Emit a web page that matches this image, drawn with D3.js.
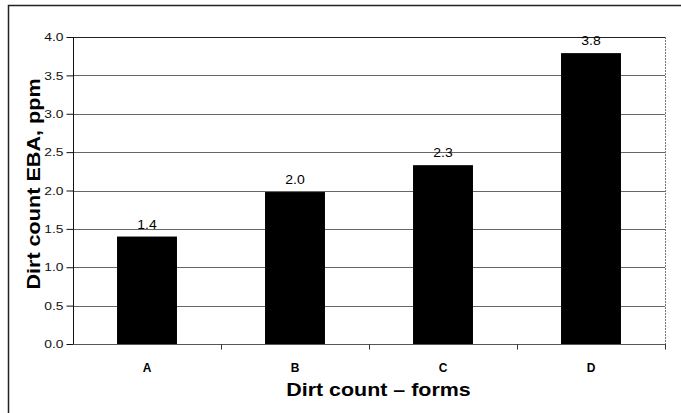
<!DOCTYPE html>
<meta charset='utf-8'>
<html>
<head>
    <title>Dirt count</title>
    <script src='https://d3js.org/d3.v7.min.js'></script>
    <style>
        html, body { margin: 0; padding: 0; background: white; }
        svg { display: block; }
    </style>
</head>
<body>
<script>
    // data
    const categories = ['A', 'B', 'C', 'D'];
    const values = [1.4, 1.98, 2.33, 3.79];
    const valueLabels = ['1.4', '2.0', '2.3', '3.8'];
    const yTicks = [0, 0.5, 1, 1.5, 2, 2.5, 3, 3.5, 4];

    const width = 681;
    const height = 413;
    const plot = { left: 73, right: 665, top: 37, bottom: 344 };
    const font = 'Liberation Sans, Arial, sans-serif';

    // the scanned chart has a slightly wide font, so stretch texts a bit
    function widen(sel, factor) {
        sel.each(function () {
            const len = this.getComputedTextLength();
            d3.select(this)
                .attr('textLength', len * factor)
                .attr('lengthAdjust', 'spacingAndGlyphs');
        });
    }

    const svg = d3.select('body').append('svg')
        .attr('width', width)
        .attr('height', height);

    // outer frame (runs off the right / bottom edge)
    svg.append('rect')
        .attr('x', 8.5).attr('y', 5.5)
        .attr('width', 700).attr('height', 430)
        .attr('fill', 'white')
        .attr('stroke', '#222')
        .attr('stroke-width', 1.5);

    const x = d3.scaleBand()
        .domain(categories)
        .range([plot.left, plot.right])
        .paddingInner(0.595)
        .paddingOuter(0.2975);

    const y = d3.scaleLinear()
        .domain([0, 4])
        .range([plot.bottom, plot.top]);

    // gridlines
    svg.append('g')
        .selectAll('line')
        .data(yTicks.filter(d => d > 0))
        .enter().append('line')
        .attr('x1', plot.left).attr('x2', plot.right)
        .attr('y1', d => Math.round(y(d)) + 0.5)
        .attr('y2', d => Math.round(y(d)) + 0.5)
        .attr('stroke', d => d === 4 ? '#222' : '#666')
        .attr('stroke-width', 1);

    // right border of plot area
    svg.append('line')
        .attr('x1', plot.right + 0.5).attr('x2', plot.right + 0.5)
        .attr('y1', plot.top).attr('y2', plot.bottom)
        .attr('stroke', '#777')
        .attr('stroke-dasharray', '2,1');

    // bars
    svg.append('g')
        .selectAll('rect')
        .data(values)
        .enter().append('rect')
        .attr('x', (d, i) => x(categories[i]))
        .attr('y', d => y(d))
        .attr('width', x.bandwidth())
        .attr('height', d => plot.bottom - y(d))
        .attr('fill', 'black');

    // value labels
    svg.append('g')
        .selectAll('text')
        .data(values)
        .enter().append('text')
        .attr('x', (d, i) => x(categories[i]) + x.bandwidth() / 2)
        .attr('y', d => y(d) - 8)
        .attr('text-anchor', 'middle')
        .style('font-family', font)
        .style('font-size', '12.5px')
        .text((d, i) => valueLabels[i])
        .call(widen, 1.12);

    // y axis
    const yAxis = svg.append('g')
        .attr('transform', 'translate(' + (plot.left + 0.5) + ',0)')
        .call(d3.axisLeft(y).tickValues(yTicks).tickFormat(d3.format('.1f')).tickSize(7).tickPadding(3));
    yAxis.selectAll('text')
        .style('font-family', font)
        .style('font-size', '11.5px')
        .attr('fill', '#111')
        .call(widen, 1.2);
    yAxis.selectAll('line, path').attr('stroke', '#111');
    yAxis.select('.domain').attr('d', 'M0,' + plot.top + 'V' + plot.bottom);

    // x axis: ticks at category boundaries
    const xAxis = svg.append('g')
        .attr('transform', 'translate(0,' + (plot.bottom + 0.5) + ')');
    xAxis.append('line')
        .attr('x1', plot.left).attr('x2', plot.right + 1)
        .attr('stroke', '#555');
    xAxis.selectAll('line.tick')
        .data(categories.slice(1).concat(['end']))
        .enter().append('line')
        .attr('class', 'tick')
        .attr('x1', (d, i) => Math.round(plot.left + (i + 1) * x.step()) + 0.5)
        .attr('x2', (d, i) => Math.round(plot.left + (i + 1) * x.step()) + 0.5)
        .attr('y1', 0).attr('y2', 5)
        .attr('stroke', '#333');
    xAxis.selectAll('text')
        .data(categories)
        .enter().append('text')
        .attr('x', d => x(d) + x.bandwidth() / 2)
        .attr('y', 27)
        .attr('text-anchor', 'middle')
        .style('font-family', font)
        .style('font-size', '12px')
        .style('font-weight', 'bold')
        .text(d => d);

    // axis titles
    svg.append('text')
        .attr('x', 378.5)
        .attr('y', 396)
        .attr('text-anchor', 'middle')
        .style('font-family', font)
        .style('font-size', '18px')
        .style('font-weight', 'bold')
        .text('Dirt count \u2013 forms')
        .call(widen, 1.19);

    svg.append('text')
        .attr('transform', 'translate(40,184) rotate(-90)')
        .attr('text-anchor', 'middle')
        .style('font-family', font)
        .style('font-size', '18px')
        .style('font-weight', 'bold')
        .text('Dirt count EBA, ppm')
        .call(widen, 1.2);
</script>
</body>
</html>
